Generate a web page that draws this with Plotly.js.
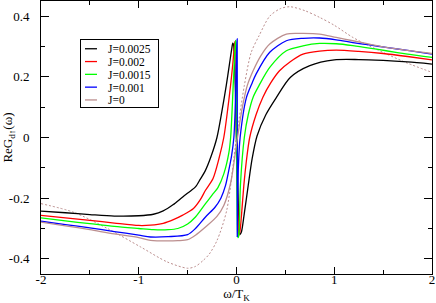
<!DOCTYPE html>
<html>
<head>
<meta charset="utf-8">
<script src="https://cdn.plot.ly/plotly-3.0.1.min.js"></script>
<style>html,body{margin:0;padding:0;background:#fff;}#chart{width:436px;height:303px;}</style>
</head>
<body>
<div id="chart"></div>
<script>
// J=0.0025 (black)
var wBlack = [-2, -1.75, -1.5, -1.25, -1.0, -0.85, -0.75, -0.65, -0.55, -0.47, -0.42, -0.37, -0.32, -0.26, -0.2, -0.15, -0.105, -0.072, -0.05, -0.038, -0.03, 0.0, 0.03, 0.036, 0.05, 0.08, 0.12, 0.16, 0.21, 0.3, 0.41, 0.55, 0.75, 1.0, 1.25, 1.5, 1.75, 2.0];
var gBlack = [-0.243, -0.248, -0.254, -0.259, -0.258, -0.253, -0.242, -0.222, -0.196, -0.176, -0.163, -0.137, -0.110, -0.062, 0.0, 0.085, 0.171, 0.242, 0.29, 0.311, 0.305, 0.0, -0.31, -0.32, -0.312, -0.25, -0.158, -0.07, 0.005, 0.075, 0.133, 0.198, 0.237, 0.256, 0.257, 0.254, 0.249, 0.242];
// J=0.002 (red)
var wRed = [-2, -1.75, -1.5, -1.25, -1.0, -0.88, -0.75, -0.64, -0.55, -0.44, -0.37, -0.317, -0.24, -0.18, -0.13, -0.095, -0.061, -0.038, -0.025, -0.017, -0.01, 0.0, 0.02, 0.024, 0.035, 0.05, 0.075, 0.1, 0.135, 0.2, 0.27, 0.35, 0.44, 0.55, 0.68, 0.85, 1.02, 1.25, 1.5, 1.75, 2.0];
var gRed = [-0.257, -0.265, -0.273, -0.282, -0.290, -0.289, -0.283, -0.270, -0.256, -0.234, -0.205, -0.174, -0.135, -0.07, 0.0, 0.08, 0.171, 0.242, 0.29, 0.316, 0.305, 0.0, -0.31, -0.322, -0.31, -0.26, -0.158, -0.08, 0.0, 0.075, 0.133, 0.18, 0.22, 0.25, 0.275, 0.285, 0.288, 0.284, 0.277, 0.267, 0.256];
// J=0.0015 (green)
var wGreen = [-2, -1.75, -1.5, -1.25, -1.0, -0.85, -0.7, -0.6, -0.5, -0.42, -0.317, -0.25, -0.19, -0.13, -0.078, -0.06, -0.045, -0.034, -0.02, -0.01, -0.004, 0.0, 0.012, 0.017, 0.025, 0.04, 0.08, 0.12, 0.17, 0.23, 0.34, 0.51, 0.68, 0.85, 1.02, 1.19, 1.36, 1.53, 1.75, 2.0];
var gGreen = [-0.265, -0.275, -0.284, -0.293, -0.300, -0.304, -0.304, -0.300, -0.285, -0.262, -0.218, -0.19, -0.165, -0.12, -0.05, 0.0, 0.09, 0.171, 0.26, 0.32, 0.31, 0.0, -0.32, -0.33, -0.32, -0.158, 0.0, 0.075, 0.133, 0.171, 0.231, 0.286, 0.302, 0.310, 0.309, 0.303, 0.295, 0.286, 0.275, 0.264];
// J=0.001 (blue)
var wBlue = [-2, -1.75, -1.5, -1.25, -1.0, -0.88, -0.7, -0.5, -0.42, -0.317, -0.22, -0.16, -0.112, -0.08, -0.05, -0.027, -0.015, -0.007, 0.0, 0.005, 0.007, 0.008, 0.012, 0.02, 0.037, 0.1, 0.16, 0.2, 0.34, 0.51, 0.68, 0.85, 1.02, 1.19, 1.36, 1.53, 1.75, 2.0];
var gBlue = [-0.276, -0.287, -0.298, -0.310, -0.322, -0.328, -0.327, -0.320, -0.300, -0.262, -0.23, -0.20, -0.158, -0.11, -0.06, 0.0, 0.08, 0.171, 0.27, 0.315, 0.325, -0.328, -0.2, -0.09, 0.0, 0.13, 0.18, 0.209, 0.281, 0.319, 0.327, 0.328, 0.322, 0.313, 0.305, 0.297, 0.287, 0.275];
// J=0 (brown, solid)
var wBrown = [-2, -1.75, -1.5, -1.25, -1.0, -0.88, -0.7, -0.6, -0.5, -0.42, -0.317, -0.2, -0.13, -0.06, 0.01, 0.06, 0.11, 0.17, 0.25, 0.34, 0.51, 0.68, 0.85, 1.02, 1.19, 1.36, 1.53, 1.75, 2.0];
var gBrown = [-0.279, -0.291, -0.304, -0.318, -0.330, -0.339, -0.341, -0.340, -0.337, -0.322, -0.295, -0.26, -0.224, -0.15, 0.0, 0.1, 0.171, 0.22, 0.27, 0.308, 0.341, 0.343, 0.341, 0.33, 0.319, 0.308, 0.297, 0.287, 0.277];
// reference curve (brown, dashed, no legend entry)
var wDash = [-2, -1.67, -1.32, -0.98, -0.71, -0.5, -0.42, -0.34, -0.28, -0.2, -0.1, 0.0, 0.08, 0.15, 0.23, 0.34, 0.45, 0.55, 0.7, 0.85, 1.0, 1.19, 1.36, 1.53, 1.75, 1.98];
var gDash = [-0.218, -0.246, -0.300, -0.361, -0.410, -0.431, -0.425, -0.405, -0.385, -0.34, -0.24, 0.0, 0.171, 0.28, 0.335, 0.40, 0.425, 0.431, 0.418, 0.396, 0.37, 0.33, 0.302, 0.276, 0.245, 0.217];

var legendNames = ['J=0.0025', 'J=0.002', 'J=0.0015', 'J=0.001', 'J=0'];
var xTickVals = [-2, -1, 0, 1, 2];
var xTickText = ['-2', '-1', '0', '1', '2'];
var yTickVals = [-0.4, -0.2, 0, 0.2, 0.4];
var yTickText = ['-0.4', '-0.2', '0', '0.2', '0.4'];

var serif = '"Liberation Serif", serif';
function tr(x, y, name, color, show, dash) {
  return {x: x, y: y, name: name, type: 'scatter', mode: 'lines', showlegend: show,
    line: {color: color, width: dash ? 1 : 1.3, dash: dash || 'solid', shape: 'spline', smoothing: 0.8}};
}
var data = [
  tr(wDash, gDash, 'ref', 'rgb(188,143,143)', false, '2px,2px'),
  tr(wBlack, gBlack, legendNames[0], '#000000', true),
  tr(wRed, gRed, legendNames[1], '#ff0000', true),
  tr(wGreen, gGreen, legendNames[2], '#00ff00', true),
  tr(wBlue, gBlue, legendNames[3], '#0000ff', true),
  tr(wBrown, gBrown, legendNames[4], 'rgb(188,143,143)', true)
];
var axisCommon = {
  showgrid: false, zeroline: false, showline: true, linecolor: '#000', linewidth: 1,
  mirror: 'ticks', ticks: 'inside', tickcolor: '#000', tickwidth: 1,
  tickfont: {family: serif, size: 13, color: '#000'}, tickmode: 'array'
};
var layout = {
  width: 436, height: 303,
  margin: {l: 41, r: 4, t: 1, b: 29},
  paper_bgcolor: '#fff', plot_bgcolor: '#fff',
  font: {family: serif, color: '#000'},
  xaxis: Object.assign({}, axisCommon, {
    range: [-2, 2], tickvals: xTickVals, ticktext: xTickText, ticklen: 7,
    ticklabelstandoff: -7,
    minor: {tickmode: 'linear', tick0: 0, dtick: 0.5, ticklen: 4, ticks: 'inside', tickcolor: '#000', tickwidth: 1},
    title: {text: 'ω/T<sub>K</sub>', font: {family: serif, size: 13}, standoff: 0}
  }),
  yaxis: Object.assign({}, axisCommon, {
    range: [-0.45, 0.45], tickvals: yTickVals, ticktext: yTickText, ticklen: 8,
    ticklabelstandoff: 8,
    minor: {tickmode: 'linear', tick0: 0, dtick: 0.1, ticklen: 4, ticks: 'inside', tickcolor: '#000', tickwidth: 1},
    title: {text: 'ReG<sub>d↑</sub>(ω)', font: {family: serif, size: 13}, standoff: 4}
  }),
  legend: {
    x: 0.0997, y: 0.861, xanchor: 'left', yanchor: 'top',
    bgcolor: '#fff', bordercolor: '#000', borderwidth: 1,
    font: {family: serif, size: 11.5, color: '#000'},
    traceorder: 'normal', tracegroupgap: 0, itemwidth: 30
  },
  showlegend: true
};

// compact the legend box (shorter line samples, tighter rows) after drawing
function compactLegend(gd) {
  try {
    var traces = gd.querySelectorAll('.legend .traces');
    var step = 12.8, first = 9.8;
    traces.forEach(function (t, i) {
      t.setAttribute('transform', 'translate(0,' + (first + i * step) + ')');
      t.querySelectorAll('.legendlines path').forEach(function (p) { p.setAttribute('d', 'M5,0h12'); });
      var txt = t.querySelector('text.legendtext');
      if (txt) txt.setAttribute('x', 28);
    });
    var bg = gd.querySelector('.legend rect.bg');
    if (bg) { bg.setAttribute('height', 68); bg.setAttribute('width', 78); }
  } catch (e) {}
}
Plotly.newPlot('chart', data, layout, {staticPlot: true, displayModeBar: false}).then(compactLegend);
</script>
</body>
</html>
